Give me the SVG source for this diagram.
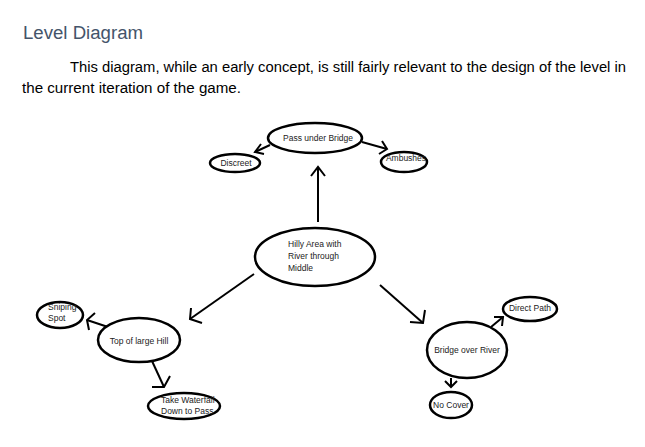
<svg xmlns="http://www.w3.org/2000/svg" width="645" height="447" viewBox="0 0 645 447">
<defs>
<style>
.title{font-family:"Liberation Sans","Open Sans",sans-serif;font-size:18px;fill:#44546A}
.para{font-family:"Liberation Sans","Open Sans",sans-serif;font-size:14px;fill:#000}
.node ellipse{fill:#fff;stroke:#000;stroke-width:2.5}
.lbl{font-family:"Liberation Sans","Open Sans",sans-serif;font-size:8.5px;fill:#222}
.conn line{stroke:#000;stroke-width:2;fill:none}
.conn path{stroke:#000;stroke-width:2;fill:none}
</style>
</defs>
<rect width="645" height="447" fill="#fff"/>
<text class="title" x="23" y="39" textLength="120" lengthAdjust="spacingAndGlyphs">Level Diagram</text>
<text class="para" x="70" y="72" textLength="556" lengthAdjust="spacingAndGlyphs">This diagram, while an early concept, is still fairly relevant to the design of the level in</text>
<text class="para" x="22" y="93" textLength="219" lengthAdjust="spacingAndGlyphs">the current iteration of the game.</text>

<g class="conn">
<line x1="318" y1="222" x2="318" y2="167"/><path d="M311,176 L318,167 L325,176"/>
<line x1="270" y1="145" x2="255" y2="152"/><path d="M261,144 L255,152 L264,154"/>
<line x1="362" y1="142" x2="387" y2="149"/><path d="M382,141 L387,149 L379,154"/>
<line x1="254" y1="274" x2="190" y2="319"/><path d="M191,308 L190,319 L202,323"/>
<line x1="380" y1="285" x2="423" y2="323"/><path d="M425,310 L423,323 L410,322"/>
<line x1="108" y1="327" x2="87" y2="320"/><path d="M95,313 L87,320 L89,330"/>
<line x1="152" y1="361" x2="164" y2="387"/><path d="M152,387 L164,387 L170,376"/>
<line x1="491" y1="327" x2="503" y2="317"/><path d="M494,317 L503,317 L502,326"/>
<line x1="451" y1="378" x2="451" y2="387"/><path d="M445,381 L451,387 L457,381"/>
</g>

<g id="pass-under-bridge" class="node">
<ellipse cx="315" cy="138" rx="47" ry="15"/>
<text class="lbl" x="318" y="141" text-anchor="middle">Pass under Bridge</text>
</g>
<g id="discreet" class="node">
<ellipse cx="235" cy="163" rx="25" ry="9"/>
<text class="lbl" x="236" y="166" text-anchor="middle">Discreet</text>
</g>
<g id="ambushes" class="node">
<ellipse cx="404" cy="162" rx="23" ry="10"/>
<text class="lbl" x="406" y="161" text-anchor="middle">Ambushes</text>
</g>
<g id="hilly-area" class="node">
<ellipse cx="315" cy="257" rx="60" ry="29"/>
<text class="lbl" x="288" y="247">Hilly Area with</text>
<text class="lbl" x="288" y="259">River through</text>
<text class="lbl" x="288" y="271">Middle</text>
</g>
<g id="top-of-large-hill" class="node">
<ellipse cx="139" cy="340" rx="41" ry="22"/>
<text class="lbl" x="139" y="344" text-anchor="middle">Top of large Hill</text>
</g>
<g id="sniping-spot" class="node">
<ellipse cx="60" cy="315" rx="23" ry="13"/>
<text class="lbl" x="48" y="310">Sniping</text>
<text class="lbl" x="48" y="321">Spot</text>
</g>
<g id="take-waterfall" class="node">
<ellipse cx="184" cy="406" rx="36" ry="13"/>
<text class="lbl" x="161" y="403">Take Waterfall</text>
<text class="lbl" x="161" y="414">Down to Pass</text>
</g>
<g id="bridge-over-river" class="node">
<ellipse cx="467" cy="350" rx="40" ry="28"/>
<text class="lbl" x="467" y="353" text-anchor="middle">Bridge over River</text>
</g>
<g id="direct-path" class="node">
<ellipse cx="530" cy="309" rx="27" ry="12"/>
<text class="lbl" x="530" y="311" text-anchor="middle">Direct Path</text>
</g>
<g id="no-cover" class="node">
<ellipse cx="451" cy="405" rx="21" ry="13"/>
<text class="lbl" x="451" y="408" text-anchor="middle">No Cover</text>
</g>
</svg>
